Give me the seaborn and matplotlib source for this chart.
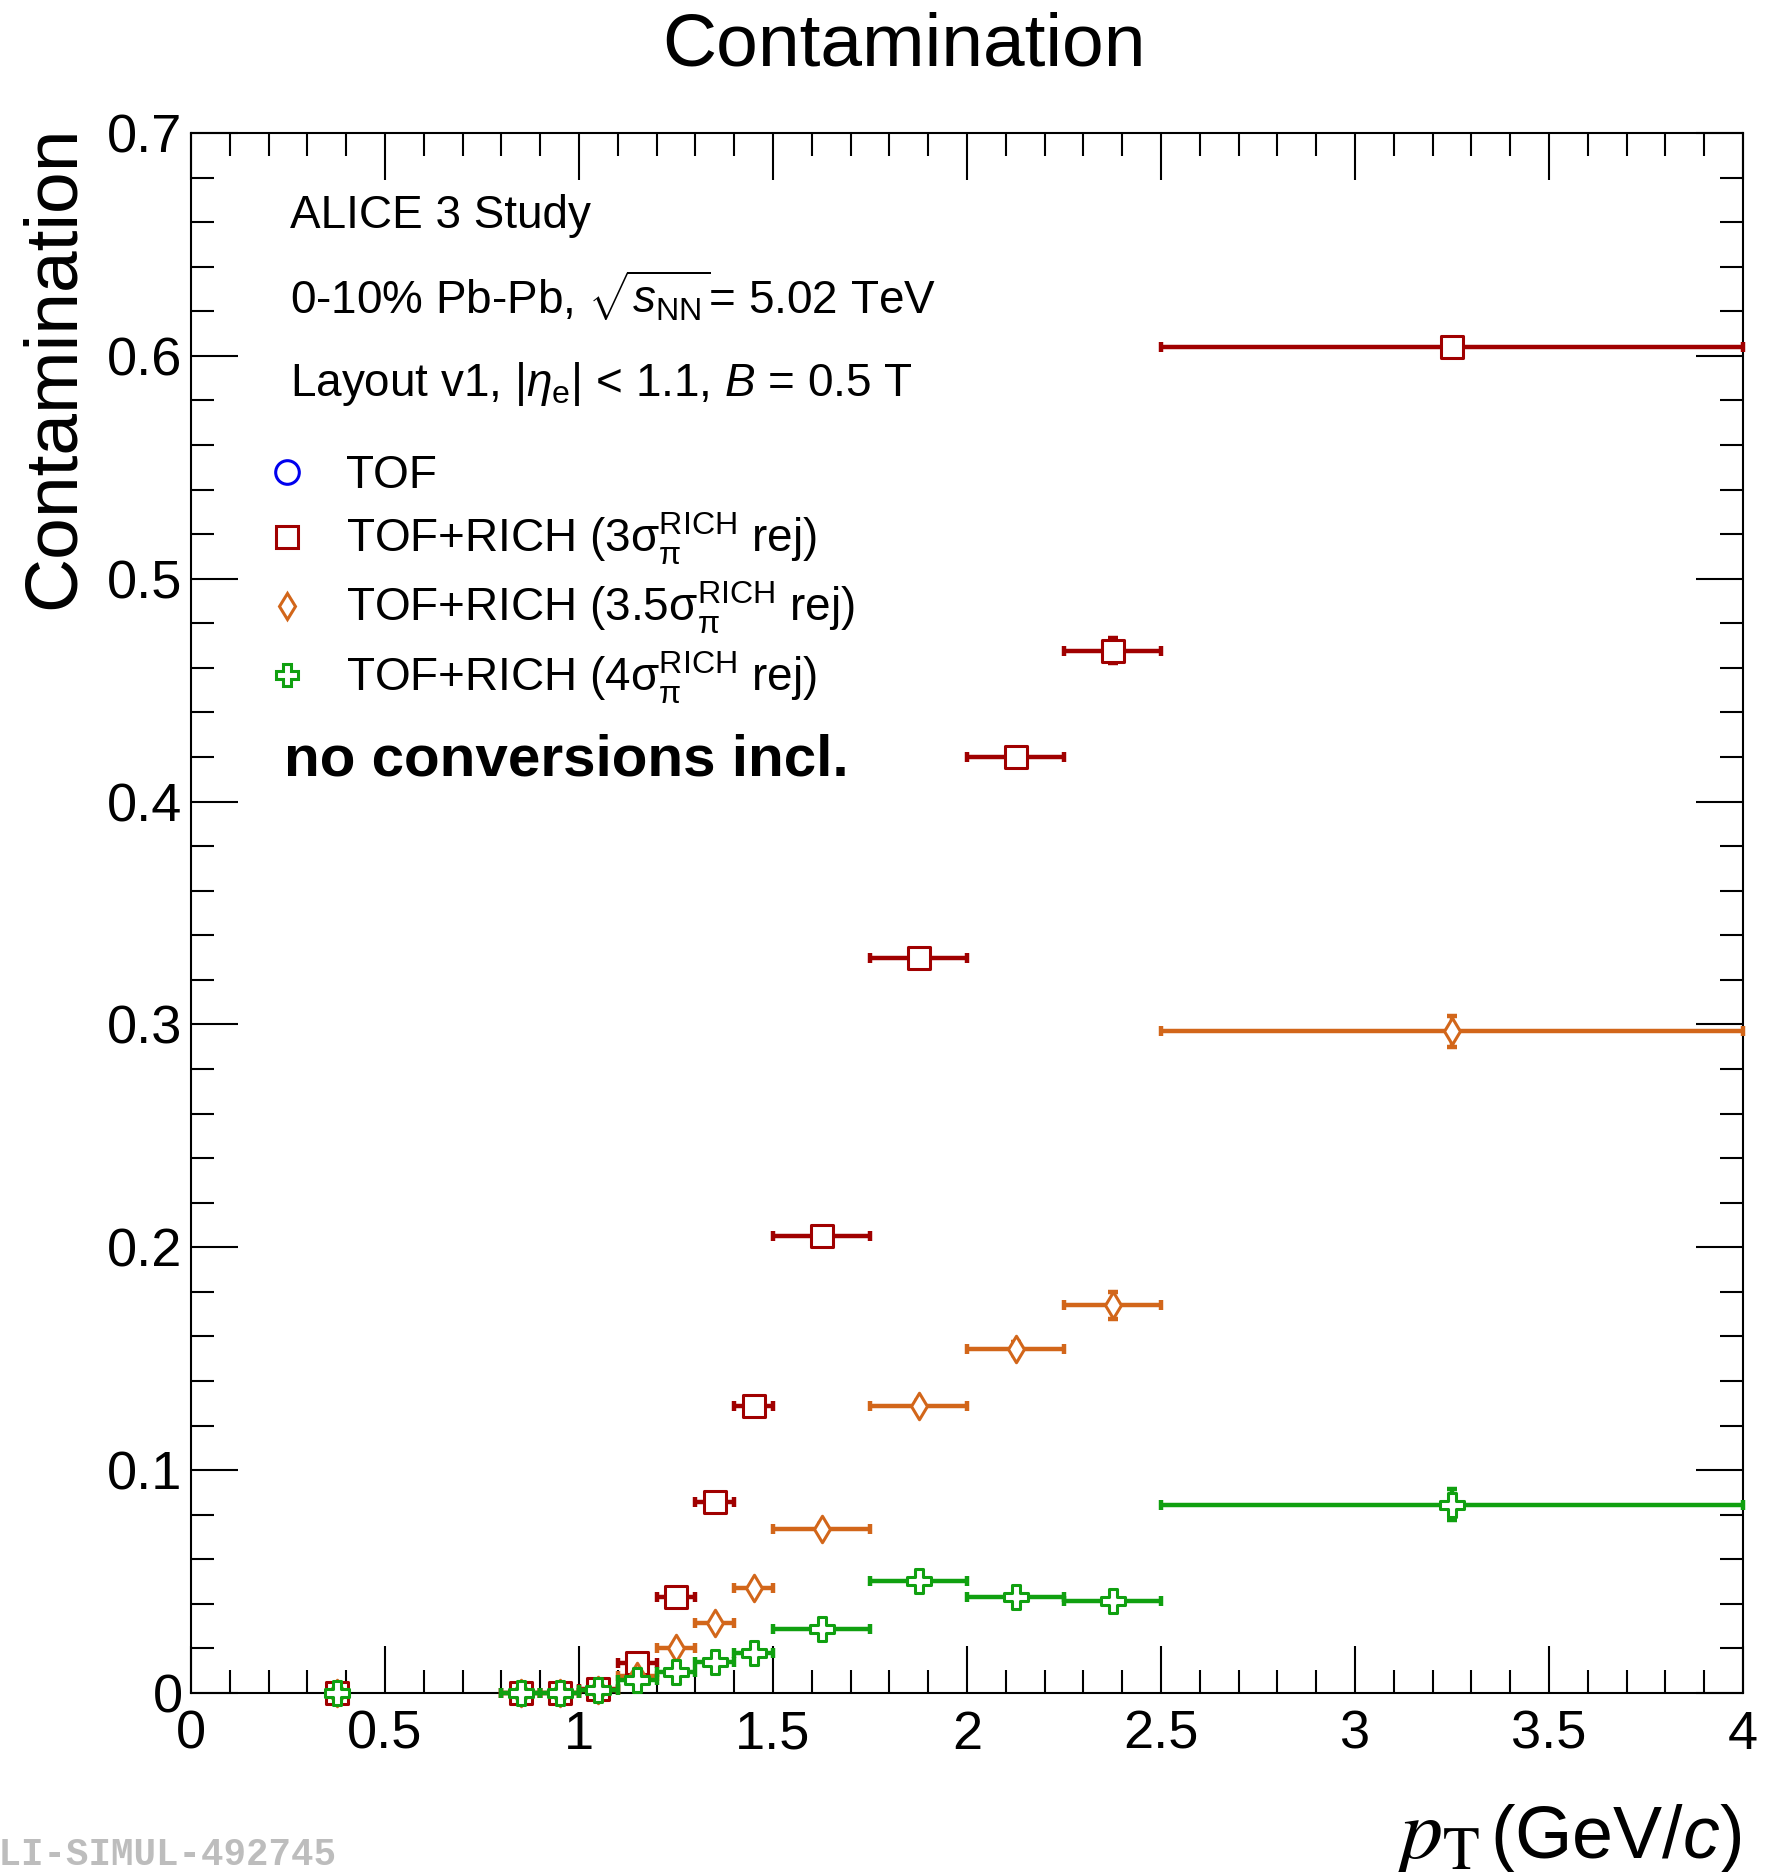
import numpy as np
import pandas as pd
import matplotlib
matplotlib.use("Agg")
import matplotlib.pyplot as plt
from matplotlib.lines import Line2D
from matplotlib.ticker import MultipleLocator, FuncFormatter
import seaborn as sns

# ---------------- data ----------------
pt_centers = [0.375, 0.85, 0.95, 1.05, 1.15, 1.25, 1.35, 1.45, 1.625, 1.875, 2.125, 2.375, 3.25]
pt_halfwidth = [0.0, 0.05, 0.05, 0.05, 0.05, 0.05, 0.05, 0.05, 0.125, 0.125, 0.125, 0.125, 0.75]

tof_pt = [0.375]
tof_val = [0.0]

rich3_val = [0.0, 0.0, 0.0, 0.002, 0.0135, 0.043, 0.0858, 0.129, 0.205, 0.330, 0.420, 0.4677, 0.6038]
rich3_err = [0.0, 0.0, 0.0, 0.0005, 0.001, 0.0015, 0.002, 0.002, 0.002, 0.003, 0.003, 0.0055, 0.002]

rich35_val = [0.0, 0.0, 0.0, 0.0015, 0.0075, 0.0202, 0.0314, 0.047, 0.0737, 0.129, 0.1545, 0.1739, 0.297]
rich35_err = [0.0, 0.0, 0.0, 0.0005, 0.001, 0.001, 0.0015, 0.0015, 0.002, 0.002, 0.003, 0.006, 0.007]

rich4_val = [0.0, 0.0, 0.0, 0.0013, 0.006, 0.0094, 0.014, 0.018, 0.0288, 0.0504, 0.0431, 0.0413, 0.0845]
rich4_err = [0.0, 0.0, 0.0, 0.0005, 0.001, 0.001, 0.001, 0.001, 0.0015, 0.002, 0.002, 0.002, 0.007]

series_labels = ["TOF",
                 r"TOF+RICH (3σ$_{\rm π}^{\rm RICH}$ rej)",
                 r"TOF+RICH (3.5σ$_{\rm π}^{\rm RICH}$ rej)",
                 r"TOF+RICH (4σ$_{\rm π}^{\rm RICH}$ rej)"]
series_colors = ["#0000ee", "#a00000", "#d2661a", "#10a010"]
series_markers = ["o", "s", "d", "P"]
series_msize = [17, 16.5, 13.5, 17.5]

# ---------------- style ----------------
sns.set_theme(style="ticks")
plt.rcParams["font.family"] = ["Liberation Sans", "DejaVu Sans"]
plt.rcParams["mathtext.fontset"] = "custom"
plt.rcParams["mathtext.rm"] = "Liberation Sans"
plt.rcParams["mathtext.it"] = "Liberation Sans:italic"
plt.rcParams["mathtext.bf"] = "Liberation Sans:bold"
for k in ["text.color", "axes.labelcolor", "xtick.color", "ytick.color", "axes.edgecolor"]:
    plt.rcParams[k] = "black"

W, H = 1766, 1872
fig = plt.figure(figsize=(W / 100, H / 100), dpi=100)
ax = fig.add_axes([191 / W, 1 - 1693 / H, (1743 - 191) / W, (1693 - 133) / H])

frames = []
frames.append(pd.DataFrame({"pt": tof_pt, "val": tof_val, "xerr": [0.0], "yerr": [0.0], "series": series_labels[0]}))
for lab, v, e in zip(series_labels[1:], [rich3_val, rich35_val, rich4_val], [rich3_err, rich35_err, rich4_err]):
    frames.append(pd.DataFrame({"pt": pt_centers, "val": v, "xerr": pt_halfwidth, "yerr": e, "series": lab}))
df = pd.concat(frames, ignore_index=True)

for i, lab in enumerate(series_labels):
    sub = df[df["series"] == lab]
    col = series_colors[i]
    if i > 0:
        eb = ax.errorbar(sub["pt"], sub["val"], xerr=sub["xerr"], yerr=sub["yerr"], fmt="none",
                         ecolor=col, elinewidth=3.2, capsize=3.5, capthick=3.2, zorder=2 + i * 0.1)
        for art in eb.lines[1] + eb.lines[2]:
            art.set_clip_on(False)
        for art in eb.lines[2]:
            art.set_clip_on(False)
    sns.scatterplot(data=sub, x="pt", y="val", ax=ax, marker=series_markers[i],
                    s=series_msize[i] ** 2, facecolor="white", edgecolor=col,
                    linewidth=2.2, zorder=3 + i * 0.1, legend=False, clip_on=False)

ax.set_xlim(0, 4)
ax.set_ylim(0, 0.7)
ax.set_xlabel("")
ax.set_ylabel("")
ax.xaxis.set_major_locator(MultipleLocator(0.5))
ax.xaxis.set_minor_locator(MultipleLocator(0.1))
ax.yaxis.set_major_locator(MultipleLocator(0.1))
ax.yaxis.set_minor_locator(MultipleLocator(0.02))
fmt = FuncFormatter(lambda v, p: "%g" % round(v, 3))
ax.xaxis.set_major_formatter(fmt)
ax.yaxis.set_major_formatter(fmt)
ax.tick_params(which="both", direction="in", top=True, right=True, width=1.5, colors="black")
ax.tick_params(which="major", length=34, labelsize=39)
ax.tick_params(which="minor", length=16.5)
ax.tick_params(axis="x", which="major", pad=12)
ax.tick_params(axis="y", which="major", pad=6)
for sp in ax.spines.values():
    sp.set_linewidth(1.5)
    sp.set_color("black")
    sp.set_zorder(1)

# texts
fig.text(904 / W, 1 - 66 / H, "Contamination", fontsize=54, ha="center", va="baseline")
fig.text(54 / W, 1 - 367 / H, "Contamination", fontsize=54, ha="center", va="center", rotation=90)

fig.text(290 / W, 1 - 216 / H, "ALICE 3 Study", fontsize=33, va="center")
fig.text(290 / W, 1 - 296 / H, r"0-10% Pb-Pb, $\sqrt{s_{\rm NN}}$= 5.02 TeV", fontsize=33, va="center")
fig.text(290 / W, 1 - 384 / H, r"Layout v1, $|\eta_{\rm e}|$ < 1.1, $B$ = 0.5 T", fontsize=33, va="center")
fig.text(284 / W, 1 - 760 / H, "no conversions incl.", fontsize=42, fontweight="bold", va="center")

handles = [Line2D([], [], linestyle="none", marker=series_markers[i], markersize=series_msize[i],
                  markerfacecolor="white", markeredgecolor=series_colors[i], markeredgewidth=2.2)
           for i in range(4)]
handles[0].set_markersize(17)
handles[1].set_markersize(16)
handles[2].set_markersize(13)
handles[3].set_markersize(16)
ax.legend(handles, series_labels, loc="upper left", bbox_to_anchor=((264 - 191) / 1552, (1693 - 454) / 1560),
          frameon=False, fontsize=33, handlelength=1.0, handletextpad=0.79, borderpad=0, borderaxespad=0,
          labelspacing=0.28)

# x-axis title
fig.text(1741 / W, 1 - 1858 / H, r"(GeV/$c$)", fontsize=53, ha="right", va="baseline")
fig.text(1480 / W, 1 - 1858 / H, r"$p_{\mathrm{T}}$", fontsize=62, ha="right", va="baseline",
         math_fontfamily="stix")

# watermark
fig.text(-24 / W, 1 - 1865 / H, "ALI-SIMUL-492745", fontsize=27, fontweight="bold", color="#bdbdbd",
         family="Liberation Mono", ha="left", va="baseline")

fig.savefig("out.png", dpi=100)
